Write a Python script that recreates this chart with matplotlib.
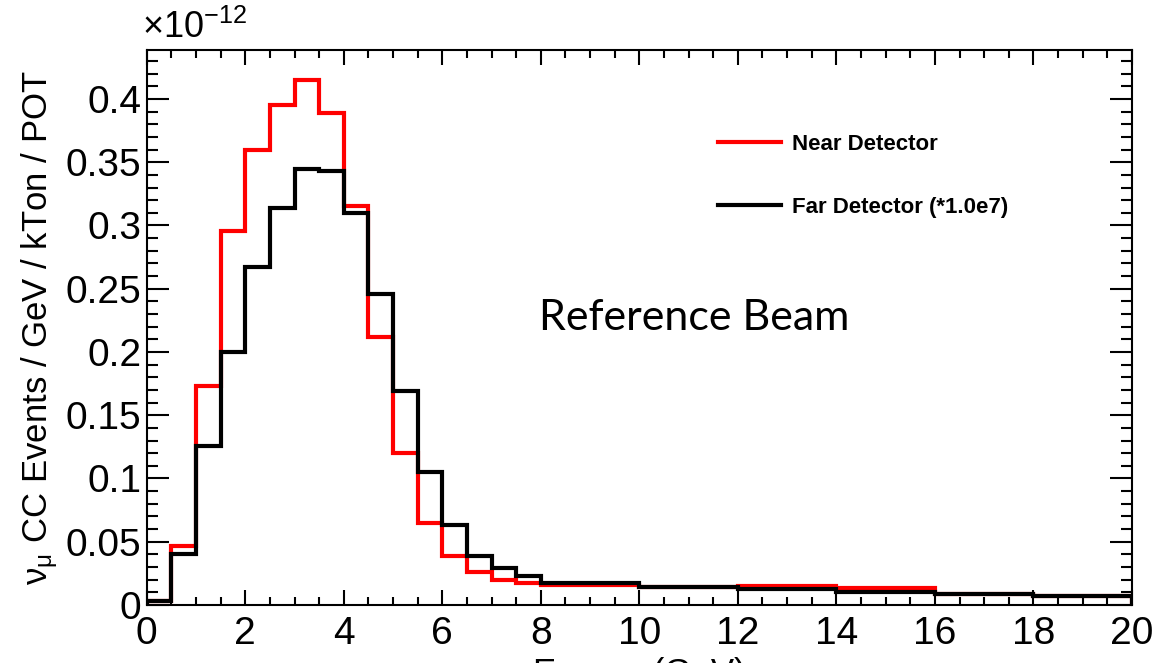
import matplotlib
matplotlib.use("Agg")
import matplotlib.pyplot as plt
import numpy as np
from matplotlib.ticker import MultipleLocator, FormatStrFormatter
from matplotlib.lines import Line2D

plt.rcParams['font.family'] = ['Liberation Sans', 'DejaVu Sans']
plt.rcParams['mathtext.fontset'] = 'custom'
plt.rcParams['mathtext.rm'] = 'Liberation Sans'
plt.rcParams['mathtext.it'] = 'Liberation Sans:italic'

# bin edges (GeV): 0.5 GeV bins up to 8, then 2 GeV bins
edges = np.array([0, 0.5, 1, 1.5, 2, 2.5, 3, 3.5, 4, 4.5, 5, 5.5, 6, 6.5, 7, 7.5, 8,
                  10, 12, 14, 16, 18, 20])

# events / GeV / kTon / POT in units of 1e-12
near = np.array([0.003, 0.047, 0.173, 0.296, 0.360, 0.395, 0.415, 0.389, 0.315, 0.212,
                 0.120, 0.065, 0.039, 0.026, 0.020, 0.017, 0.0155,
                 0.0142, 0.0152, 0.0132, 0.0087, 0.0071])
far = np.array([0.003, 0.040, 0.126, 0.200, 0.267, 0.314, 0.345, 0.343, 0.310, 0.246,
                0.169, 0.105, 0.063, 0.039, 0.029, 0.023, 0.0176,
                0.0140, 0.0124, 0.0105, 0.0087, 0.0071])

fig = plt.figure(figsize=(11.58, 6.63), dpi=100)
ax = fig.add_axes([0.1267, 0.0875, 0.8508, 0.8371])

ax.stairs(near, edges, color='#ff0000', linewidth=3.0, label='Near Detector')
ax.stairs(far, edges, color='black', linewidth=3.0, label='Far Detector (*1.0e7)')

ax.set_xlim(0, 20)
ax.set_ylim(0, 0.4387)

ax.xaxis.set_major_locator(MultipleLocator(2))
ax.xaxis.set_minor_locator(MultipleLocator(0.5))
ax.yaxis.set_major_locator(MultipleLocator(0.05))
ax.yaxis.set_minor_locator(MultipleLocator(0.01))
ax.yaxis.set_major_formatter(FormatStrFormatter('%g'))

ax.tick_params(which='both', direction='in', top=True, right=True, width=1.5)
ax.tick_params(which='major', length=11, labelsize=28)
ax.tick_params(which='minor', length=6)
ax.tick_params(axis='y', which='major', length=16, pad=4)
ax.tick_params(axis='y', which='minor', length=8)
ax.tick_params(axis='x', pad=8)
for sp in ax.spines.values():
    sp.set_linewidth(1.5)

ax.set_ylabel(r'$\mathrm{ν_{μ}}$ CC Events / GeV / kTon / POT', fontsize=25, labelpad=4)
fig.text(0.552, 0.009, 'Energy (GeV)', ha='center', va='top', fontsize=25)
fig.text(0.123, 0.93, r'$\times$10$^{-12}$', ha='left', va='bottom', fontsize=26)

handles = [Line2D([], [], color='#ff0000', lw=3.0),
           Line2D([], [], color='black', lw=3.0)]
leg = ax.legend(handles, ['Near Detector', 'Far Detector (*1.0e7)'],
                loc='upper left', bbox_to_anchor=(0.56, 0.885), frameon=False,
                prop={'weight': 'bold', 'size': 16}, handlelength=2.8,
                handletextpad=0.5, labelspacing=1.9)

ax.text(0.398, 0.495, 'Reference Beam', transform=ax.transAxes, fontsize=31,
        family=['Lato', 'DejaVu Sans'], ha='left', va='baseline')

fig.savefig('out.png', dpi=100)
